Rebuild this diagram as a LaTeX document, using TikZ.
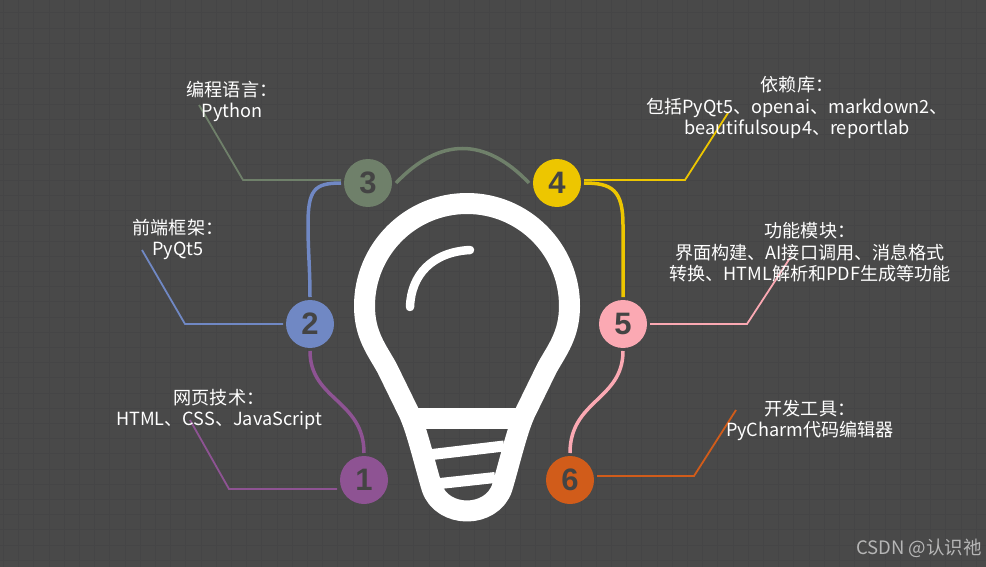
\documentclass[tikz,border=0pt]{standalone}
\usepackage{fontspec}
\setmainfont{Noto Sans CJK SC}
\newfontfamily\numfont{Liberation Sans}
\begin{document}
\begin{tikzpicture}[
  x=1pt, y=-1pt,
  numnode/.style={circle, minimum size=48pt, inner sep=0pt, outer sep=3pt, text=numtext, font=\numfont\fontsize{31}{31}\selectfont\bfseries},
  txtnode/.style={text=white, align=center, inner sep=0pt, font=\fontsize{18.1}{21.5}\selectfont},
  leader/.style={line width=1.8pt},
  link/.style={line width=3.5pt},
  bulb/.style={draw=white, line width=21pt}
]
  \definecolor{bgcol}{HTML}{494949}
  \definecolor{gridcol}{HTML}{454546}
  \definecolor{numtext}{HTML}{444444}
  \definecolor{cone}{HTML}{8E5393}
  \definecolor{ctwo}{HTML}{7088C4}
  \definecolor{cthree}{HTML}{6F806A}
  \definecolor{cfour}{HTML}{EDC600}
  \definecolor{cfive}{HTML}{FBA9B3}
  \definecolor{csix}{HTML}{D15C1A}
  \useasboundingbox (0,0) rectangle (986,567);
  \fill[bgcol] (0,0) rectangle (986,567);
  \foreach \i in {0,...,64} \draw[gridcol, line width=1pt] (3.5+15.2*\i,0) -- (3.5+15.2*\i,567);
  \foreach \i in {0,...,36} \draw[gridcol, line width=1pt] (0,13+15.2*\i) -- (986,13+15.2*\i);

  % Gluehbirne
  \draw[bulb, line join=round] (364.5,306) arc[start angle=180, end angle=360, radius=102.5]
    .. controls (569.5,335) and (557,350) .. (547,368) -- (525,413)
    .. controls (517,430) and (509,465) .. (502,488)
    .. controls (497,503) and (482,511) .. (467,511)
    .. controls (452,511) and (437,503) .. (432,488)
    .. controls (425,465) and (417,430) .. (409,413)
    -- (387,368) .. controls (377,350) and (364.5,335) .. (364.5,306) -- cycle;
  \draw[white, line width=21pt] (412,418.5) -- (522,418.5);
  \draw[white, line width=11pt] (432,454.5) -- (504,446);
  \draw[white, line width=11pt] (440,483.5) -- (495,477.5);
  \draw[white, line width=8.5pt, line cap=round] (470,250) .. controls (432,252) and (411,275) .. (410,307);

  % Kreise
  \node[numnode, fill=cone] (n1) at (364,480) {1};
  \node[numnode, fill=ctwo] (n2) at (310,324) {2};
  \node[numnode, fill=cthree] (n3) at (368,183) {3};
  \node[numnode, fill=cfour] (n4) at (557,183) {4};
  \node[numnode, fill=cfive] (n5) at (623,324) {5};
  \node[numnode, fill=csix] (n6) at (570,480) {6};

  % Verbindungen
  \draw[link, ctwo] (n3.west) .. controls (314,183) and (308,190) .. (308,225) .. controls (308,250) and (310,270) .. (n2.north);
  \draw[link, cone] (n2.south) .. controls (310,400) and (364,400) .. (n1.north);
  \draw[link, cthree] ([xshift=1pt]n3.east) .. controls (440,137) and (485,137) .. ([xshift=-1pt]n4.west);
  \draw[link, cfour] (n4.east) .. controls (612,183) and (623,190) .. (623,225) .. controls (623,250) and (623,270) .. (n5.north);
  \draw[link, cfive] (n5.south) .. controls (623,400) and (570,400) .. (n6.north);

  % Beschriftungen
  \coordinate (e1) at (229,489); \coordinate (f1) at (190,420);
  \coordinate (e2) at (185,324); \coordinate (f2) at (142,250);
  \coordinate (e3) at (243,180); \coordinate (f3) at (199,105);
  \coordinate (e4) at (685,180); \coordinate (f4) at (728,113);
  \coordinate (e5) at (747,324); \coordinate (f5) at (790,258);
  \coordinate (e6) at (694,476); \coordinate (f6) at (736,410);
  \draw[leader, cone] (n1.west |- e1) -- (e1) -- (f1);
  \draw[leader, ctwo] (n2.west) -- (e2) -- (f2);
  \draw[leader, cthree] (n3.west |- e3) -- (e3) -- (f3);
  \draw[leader, cfour] (n4.east |- e4) -- (e4) -- (f4);
  \draw[leader, cfive] (n5.east) -- (e5) -- (f5);
  \draw[leader, csix] (n6.east |- e6) -- (e6) -- (f6);

  \node[txtnode] (t1) at (219,409.5) {网页技术：\\HTML、CSS、JavaScript};
  \node[txtnode] (t2) at (178,239.5) {前端框架：\\PyQt5};
  \node[txtnode] (t3) at (232,101.5) {编程语言：\\Python};
  \node[txtnode] (t4) at (797,107.5) {依赖库：\\包括PyQt5、openai、markdown2、\\beautifulsoup4、reportlab};
  \node[txtnode] (t5) at (810,252.5) {功能模块：\\界面构建、AI接口调用、消息格式\\转换、HTML解析和PDF生成等功能};
  \node[txtnode] (t6) at (810,420.5) {开发工具：\\PyCharm代码编辑器};
  \node[text=white!60!bgcol, anchor=east, inner sep=0pt, font=\fontsize{18.5}{20}\selectfont] (mark) at (982,548) {CSDN @认识祂};
\end{tikzpicture}
\end{document}
